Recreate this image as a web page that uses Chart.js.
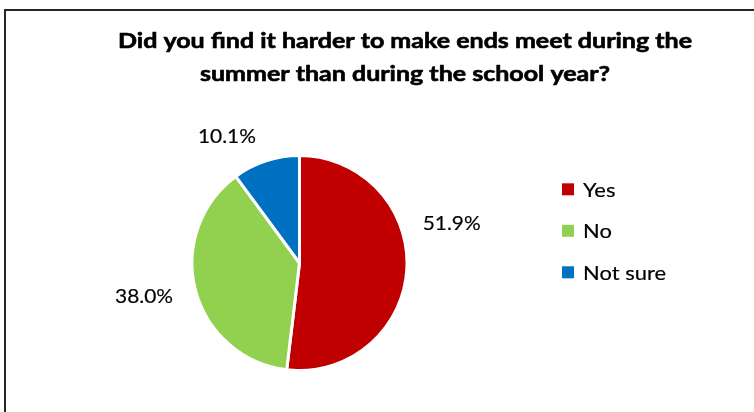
<!DOCTYPE html>
<html>
<head>
<meta charset="utf-8">
<script src="https://cdn.jsdelivr.net/npm/chart.js@4"></script>
<style>
  html, body { margin: 0; padding: 0; background: #ffffff; }
  #wrap { width: 754px; height: 412px; }
</style>
</head>
<body>
<div id="wrap"><canvas id="c" width="754" height="412"></canvas></div>
<script>
// ---- data ----
const titleLines = ["Did you find it harder to make ends meet during the", "summer than during the school year?"];
const categories = ["Yes", "No", "Not sure"];
const values = [51.9, 38.0, 10.1];
const valueLabels = ["51.9%", "38.0%", "10.1%"];
const colors = ["#C00000", "#92D050", "#0070C0"];

const FAMILY = "Lato, 'Liberation Sans', sans-serif";

// font of a given cap height, horizontally condensed so that a sample string has a given width
function makeFont(ctx, weight, capH, sample, sampleW) {
  ctx.font = weight + " 100px " + FAMILY;
  const asc = ctx.measureText("H").actualBoundingBoxAscent;
  const size = 100 * capH / asc;
  ctx.font = weight + " " + size + "px " + FAMILY;
  const sx = sampleW / ctx.measureText(sample).width;
  return { css: weight + " " + size + "px " + FAMILY, sx: sx };
}
function drawText(ctx, f, text, x, y, align, stroke) {
  ctx.save();
  ctx.font = f.css;
  ctx.textAlign = align;
  ctx.textBaseline = 'alphabetic';
  ctx.translate(x, y);
  ctx.scale(f.sx, 1);
  ctx.fillText(text, 0, 0);
  if (stroke) {
    ctx.strokeStyle = ctx.fillStyle;
    ctx.lineWidth = stroke;
    ctx.lineJoin = 'round';
    ctx.strokeText(text, 0, 0);
  }
  ctx.restore();
}

const decor = {
  id: 'decor',
  afterDraw(chart, args, opts) {
    const ctx = chart.ctx;
    ctx.save();
    // frame (partial, cropped chart border)
    ctx.strokeStyle = '#262626';
    ctx.lineWidth = 2;
    ctx.beginPath();
    ctx.moveTo(5, 412);
    ctx.lineTo(5, 10);
    ctx.lineTo(754, 10);
    ctx.stroke();
    ctx.fillStyle = '#000';

    // title
    const tf = makeFont(ctx, 'bold', 14.9, titleLines[0], 574);
    drawText(ctx, tf, titleLines[0], 405, 47.5, 'center', 0.6);
    drawText(ctx, tf, titleLines[1], 405, 81, 'center', 0.6);

    // value labels
    const lf = makeFont(ctx, 'normal', 14.4, valueLabels[0], 58);
    const meta = chart.getDatasetMeta(0);
    meta.data.forEach((arc, i) => {
      const p = arc.getProps(['x', 'y', 'startAngle', 'endAngle', 'outerRadius'], true);
      const mid = (p.startAngle + p.endAngle) / 2;
      const d = p.outerRadius * 1.45;
      const n = opts.nudge[i];
      drawText(ctx, lf, valueLabels[i], p.x + Math.cos(mid) * d + n[0], p.y + Math.sin(mid) * d + n[1], 'center', 0.2);
    });

    // legend
    const gf = makeFont(ctx, 'normal', 14.6, 'Not sure', 83);
    categories.forEach((c, i) => {
      const top = 183.3 + i * 41.5;
      ctx.fillStyle = colors[i];
      ctx.fillRect(562, top, 12, 12);
      ctx.fillStyle = '#000';
      drawText(ctx, gf, c, 583, top + 13.4, 'left', 0.2);
    });
    ctx.restore();
  }
};

new Chart(document.getElementById('c'), {
  type: 'pie',
  data: {
    labels: categories,
    datasets: [{
      data: values,
      backgroundColor: colors,
      borderColor: '#ffffff',
      borderWidth: 3
    }]
  },
  options: {
    responsive: false,
    animation: false,
    layout: { padding: { left: 190.5, right: 345.5, top: 154, bottom: 40 } },
    plugins: {
      legend: { display: false },
      title: { display: false },
      tooltip: { enabled: false },
      decor: { nudge: [[-3.4, -42.6], [-4.7, 0.3], [-23.9, 28.1]] }
    }
  },
  plugins: [decor]
});
</script>
</body>
</html>
